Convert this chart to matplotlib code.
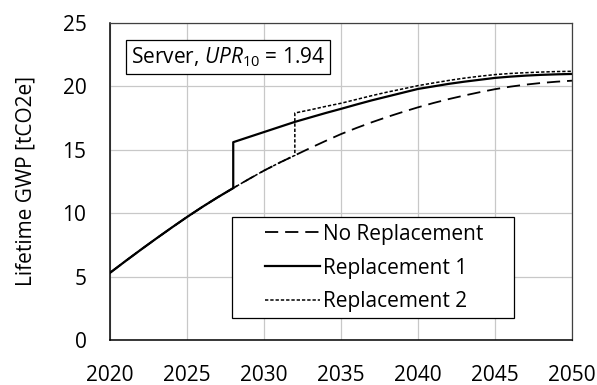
import matplotlib
matplotlib.use("Agg")
import matplotlib.pyplot as plt
from matplotlib.patches import Rectangle

plt.rcParams['font.family'] = ['Open Sans', 'DejaVu Sans']
plt.rcParams['mathtext.fontset'] = 'custom'
plt.rcParams['mathtext.rm'] = 'Open Sans'
plt.rcParams['mathtext.it'] = 'Open Sans:italic'
plt.rcParams['lines.scale_dashes'] = False

# lifetime GWP per year, no replacement
years = list(range(2020, 2051))
no_repl = [5.3, 6.22, 7.12, 8.0, 8.86, 9.7, 10.5, 11.26, 11.98, 12.68,
           13.36, 13.98, 14.56, 15.14, 15.7, 16.24, 16.72, 17.17, 17.59, 17.98,
           18.35, 18.69, 19.0, 19.28, 19.54, 19.78, 19.98, 20.14, 20.27, 20.37, 20.45]

# after replacement in 2028
repl1_year = 2028
repl1_after = [15.6, 16.0, 16.4, 16.8, 17.2, 17.55, 17.9, 18.23, 18.57, 18.9,
               19.2, 19.5, 19.8, 20.0, 20.2, 20.37, 20.52, 20.67, 20.77, 20.85,
               20.91, 20.95, 20.98]

# after replacement in 2032
repl2_year = 2032
repl2_after = [17.9, 18.15, 18.42, 18.67, 18.97, 19.27, 19.55, 19.8, 20.06, 20.27,
               20.47, 20.65, 20.8, 20.93, 21.02, 21.08, 21.13, 21.17, 21.19]


def with_jump(year, after):
    n = years.index(year) + 1
    x = years[:n] + list(range(year, year + len(after)))
    y = no_repl[:n] + after
    return x, y


fs = 15
fig = plt.figure(figsize=(5.97, 3.85), dpi=100)
ax = fig.add_axes([0.1843, 0.1169, 0.7739, 0.8234])

l0, = ax.plot(years, no_repl, color='black', lw=1.3, label='No Replacement')
l0.set_dashes((9.5, 5))
x1, y1 = with_jump(repl1_year, repl1_after)
ax.plot(x1, y1, color='black', lw=1.6, label='Replacement 1')
x2, y2 = with_jump(repl2_year, repl2_after)
l2, = ax.plot(x2, y2, color='black', lw=1.1, label='Replacement 2')
l2.set_dashes((2.4, 1.4))

ax.set_xlim(2020, 2050)
ax.set_ylim(0, 25)
ax.set_xticks(range(2020, 2051, 5))
ax.set_yticks(range(0, 26, 5))
ax.grid(True, color='#c8c8c8', lw=0.9)
ax.set_axisbelow(True)
ax.tick_params(length=0, labelsize=fs)
ax.tick_params(axis='x', pad=18)
ax.tick_params(axis='y', pad=17)
for s in ['left', 'bottom']:
    ax.spines[s].set_linewidth(1.1)
    ax.spines[s].set_color('black')
for s in ['top', 'right']:
    ax.spines[s].set_linewidth(0.9)
    ax.spines[s].set_color('#404040')

ax.set_ylabel('Lifetime GWP [tCO2e]', fontsize=fs, labelpad=19)

ax.text(0.045, 0.893, r'Server, $\mathit{UPR}_{10}$ = 1.94', transform=ax.transAxes,
        fontsize=fs, va='center', ha='left',
        bbox=dict(boxstyle='square,pad=0.25', fc='white', ec='black', lw=0.9))

# legend frame drawn separately for the wide Excel-style padding
ax.add_patch(Rectangle((0.264, 0.0694), 0.610, 0.3186, transform=ax.transAxes,
                       fc='white', ec='black', lw=0.9, zorder=4))
leg = ax.legend(loc='center left', bbox_to_anchor=(0.335, 0.227), fontsize=fs,
                frameon=False, handlelength=2.65, handletextpad=0.15,
                labelspacing=0.62, borderpad=0, borderaxespad=0)
leg.set_zorder(5)

fig.savefig('out.png', dpi=100)
